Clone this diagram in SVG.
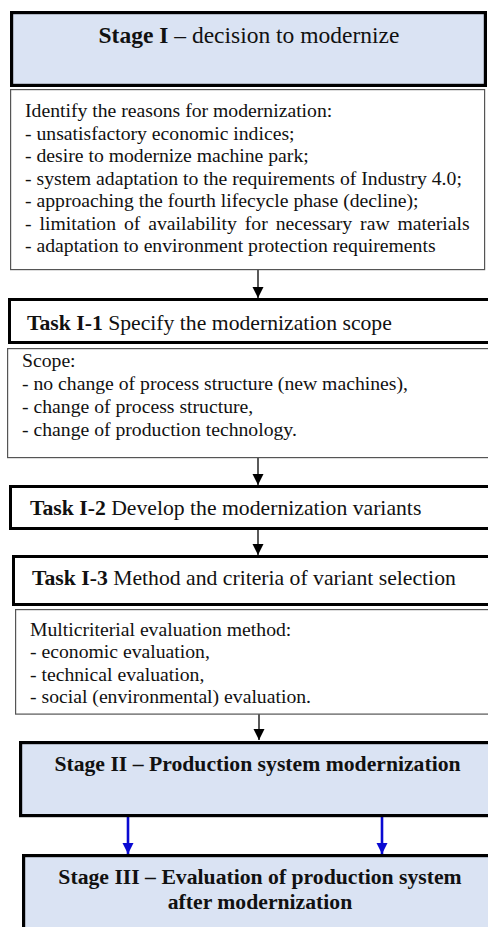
<svg xmlns="http://www.w3.org/2000/svg" width="488" height="927" viewBox="0 0 488 927">
<style>
  text { font-family: "Liberation Serif", "Times New Roman", serif; fill: #111; }
  .body { font-size: 19.7px; }
  .head { font-size: 21.7px; }
  .b { font-weight: bold; }
  .stage { fill: #dae3f3; stroke: #000; stroke-width: 3.2; }
  .task { fill: #fff; stroke: #000; stroke-width: 3; }
  .info { fill: #fff; stroke: #555; stroke-width: 1.2; }
  .conn { stroke: #000; stroke-width: 1.3; fill: none; }
  .blue { stroke: #0a0ad2; stroke-width: 2.6; fill: none; }
</style>
<defs>
  <marker id="ah" markerUnits="userSpaceOnUse" markerWidth="12" markerHeight="12" refX="11" refY="6" orient="auto">
    <path d="M0,0.5 L11,6 L0,11.5 z" fill="#000"/>
  </marker>
  <marker id="ahb" markerUnits="userSpaceOnUse" markerWidth="12" markerHeight="12" refX="11" refY="6" orient="auto">
    <path d="M0,0.5 L11,6 L0,11.5 z" fill="#0a0ad2"/>
  </marker>
</defs>
<rect width="488" height="927" fill="#fff"/>

<g id="connectors">
  <line class="conn" x1="258" y1="270" x2="258" y2="298" marker-end="url(#ah)"/>
  <line class="conn" x1="258" y1="458" x2="258" y2="485" marker-end="url(#ah)"/>
  <line class="conn" x1="258" y1="530" x2="258" y2="555" marker-end="url(#ah)"/>
  <line class="conn" x1="259" y1="714" x2="259" y2="740" marker-end="url(#ah)"/>
  <line class="blue" x1="128" y1="817" x2="128" y2="854" marker-end="url(#ahb)"/>
  <line class="blue" x1="382" y1="817" x2="382" y2="854" marker-end="url(#ahb)"/>
</g>

<g id="stage1">
  <rect class="stage" x="11.6" y="12.6" width="473.8" height="72.8"/>
  <text x="249" y="42.5" text-anchor="middle" style="font-size:23.5px"><tspan class="b">Stage I</tspan> – decision to modernize</text>
</g>

<g id="reasons">
  <rect class="info" x="10.6" y="89.6" width="474" height="180"/>
  <text class="body" x="25" y="117">Identify the reasons for modernization:</text>
  <text class="body" x="25" y="139.5">- unsatisfactory economic indices;</text>
  <text class="body" x="25" y="162">- desire to modernize machine park;</text>
  <text class="body" x="25" y="184.5">- system adaptation to the requirements of Industry 4.0;</text>
  <text class="body" x="25" y="207">- approaching the fourth lifecycle phase (decline);</text>
  <text class="body" x="25" y="229.5" word-spacing="3">- limitation of availability for necessary raw materials</text>
  <text class="body" x="25" y="252">- adaptation to environment protection requirements</text>
</g>

<g id="task1">
  <rect class="task" x="9.5" y="299.5" width="485" height="43"/>
  <text class="head" x="27" y="330"><tspan class="b">Task I-1</tspan> Specify the modernization scope</text>
</g>

<g id="scope">
  <rect class="info" x="7.6" y="348.6" width="485" height="109"/>
  <text class="body" x="22" y="367">Scope:</text>
  <text class="body" x="22" y="390">- no change of process structure (new machines),</text>
  <text class="body" x="22" y="413">- change of process structure,</text>
  <text class="body" x="22" y="436">- change of production technology.</text>
</g>

<g id="task2">
  <rect class="task" x="10.5" y="486.5" width="485" height="42"/>
  <text class="head" x="30" y="515"><tspan class="b">Task I-2</tspan> Develop the modernization variants</text>
</g>

<g id="task3">
  <rect class="task" x="13.5" y="556.5" width="485" height="48"/>
  <text class="head" x="32" y="585"><tspan class="b">Task I-3</tspan> Method and criteria of variant selection</text>
</g>

<g id="criteria">
  <rect class="info" x="15.6" y="609.6" width="485" height="104.5"/>
  <text class="body" x="30" y="636">Multicriterial evaluation method:</text>
  <text class="body" x="30" y="658">- economic evaluation,</text>
  <text class="body" x="30" y="680.5">- technical evaluation,</text>
  <text class="body" x="30" y="702.5">- social (environmental) evaluation.</text>
</g>

<g id="stage2">
  <rect class="stage" x="20.6" y="742.6" width="485" height="73"/>
  <text class="head b" x="257.5" y="770.5" text-anchor="middle">Stage II – Production system modernization</text>
</g>

<g id="stage3">
  <rect class="stage" x="23.6" y="855.6" width="485" height="100"/>
  <text class="head b" x="260" y="884" text-anchor="middle">Stage III – Evaluation of production system</text>
  <text class="head b" x="260" y="909" text-anchor="middle">after modernization</text>
</g>
</svg>
